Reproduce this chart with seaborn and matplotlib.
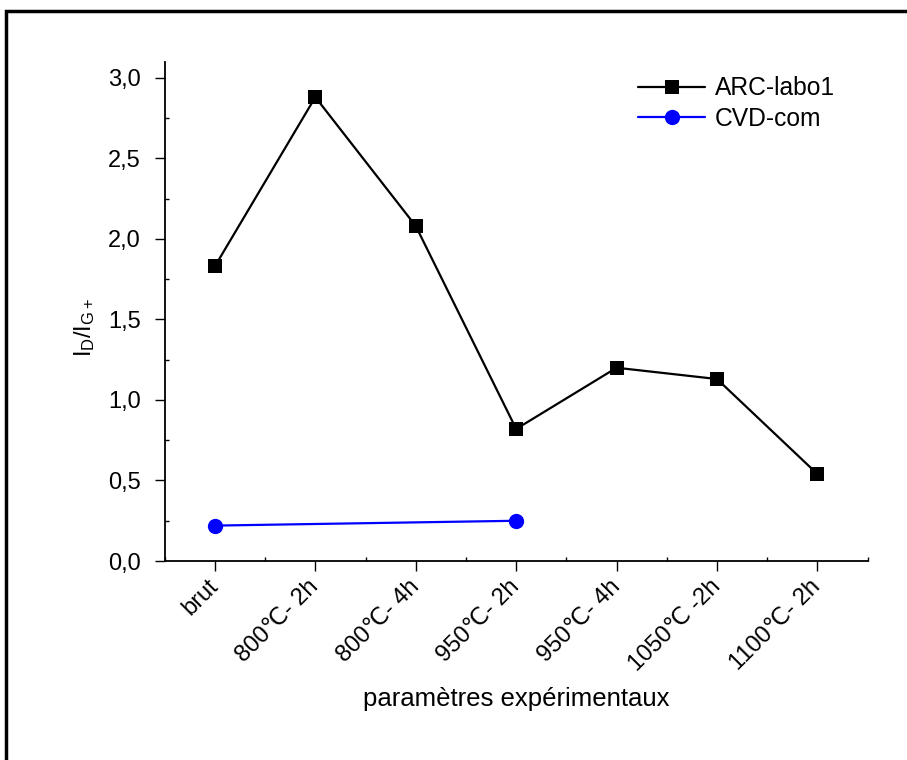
import numpy as np
import pandas as pd
import matplotlib
matplotlib.use("Agg")
import matplotlib.pyplot as plt
from matplotlib.patches import Rectangle
from matplotlib.ticker import MultipleLocator, FuncFormatter
import seaborn as sns

# Données
categories = ["brut", "800℃- 2h", "800℃- 4h", "950℃- 2h",
              "950℃- 4h", "1050℃ -2h", "1100℃- 2h"]
arc_cats = categories
arc_vals = [1.83, 2.88, 2.08, 0.82, 1.20, 1.13, 0.54]
cvd_cats = ["brut", "950℃- 2h"]
cvd_vals = [0.22, 0.25]

sns.set_style("ticks")
plt.rcParams["font.family"] = ["Liberation Sans", "DejaVu Sans"]
plt.rcParams["mathtext.fontset"] = "custom"
plt.rcParams["mathtext.rm"] = "Liberation Sans"
plt.rcParams["font.size"] = 17
for k in ["text.color", "axes.labelcolor", "xtick.color", "ytick.color", "axes.edgecolor"]:
    plt.rcParams[k] = "black"

arc = pd.DataFrame({"pos": [categories.index(c) for c in arc_cats], "val": arc_vals})
cvd = pd.DataFrame({"pos": [categories.index(c) for c in cvd_cats], "val": cvd_vals})

fig = plt.figure(figsize=(9.07, 7.6), dpi=100)
ax = fig.add_axes([0.1816, 0.2618, 0.775, 0.657])

sns.lineplot(data=arc, x="pos", y="val", color="black", marker="s", markersize=10,
             markeredgewidth=0, linewidth=1.6, sort=False, ax=ax, label="ARC-labo1")
sns.lineplot(data=cvd, x="pos", y="val", color="blue", marker="o", markersize=11,
             markeredgewidth=0, linewidth=1.6, sort=False, ax=ax, label="CVD-com")

ax.set_xlim(-0.5, len(categories) - 0.5)
ax.set_ylim(0, 3.1)
ax.set_xticks(range(len(categories)))
ax.set_xticklabels(categories, rotation=45, ha="right", va="center", rotation_mode="anchor")
ax.yaxis.set_major_locator(MultipleLocator(0.5))
ax.yaxis.set_minor_locator(MultipleLocator(0.25))
ax.xaxis.set_minor_locator(MultipleLocator(0.5))
ax.yaxis.set_major_formatter(FuncFormatter(lambda v, p: f"{v:.1f}".replace(".", ",")))
ax.tick_params(which="major", direction="out", length=7, width=1.0, labelsize=17)
ax.tick_params(axis="y", which="major", pad=10)
ax.tick_params(axis="x", which="major", pad=9)
ax.tick_params(which="minor", direction="in", length=3, width=1.0)
for s in ["left", "bottom"]:
    ax.spines[s].set_linewidth(1.3)
sns.despine(ax=ax)

ax.set_xlabel("paramètres expérimentaux", fontsize=18.5)
ax.xaxis.set_label_coords(0.5, -0.252)
ax.set_ylabel(r"$\mathregular{I_D/I_{G+}}$", fontsize=17)
ax.yaxis.set_label_coords(-0.097, 0.468)

ax.legend(loc="upper right", bbox_to_anchor=(0.975, 1.0), frameon=False, fontsize=17.7,
          handlelength=2.75, handletextpad=0.4, labelspacing=0.25, borderaxespad=0.2)

# cadre autour de la figure
fig.patches.append(Rectangle((6 / 907, -0.1), 1.2, 1.1 - 11 / 760, transform=fig.transFigure,
                             fill=False, edgecolor="black", linewidth=2.5))

fig.savefig("out.png", dpi=100)
